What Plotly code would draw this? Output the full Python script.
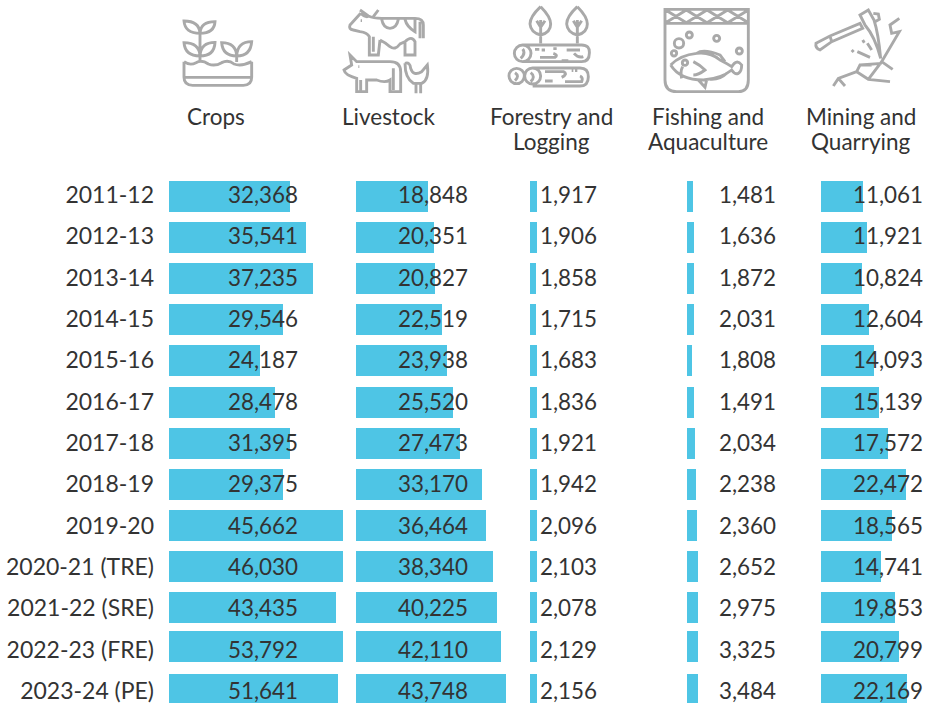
import re
import plotly.graph_objects as go

years = ["2011-12", "2012-13", "2013-14", "2014-15", "2015-16", "2016-17", "2017-18",
         "2018-19", "2019-20", "2020-21 (TRE)", "2021-22 (SRE)", "2022-23 (FRE)", "2023-24 (PE)"]

# printed figures
crops = [32368, 35541, 37235, 29546, 24187, 28478, 31395, 29375, 45662, 46030, 43435, 53792, 51641]
livestock = [18848, 20351, 20827, 22519, 23938, 25520, 27473, 33170, 36464, 38340, 40225, 42110, 43748]
forestry = [1917, 1906, 1858, 1715, 1683, 1836, 1921, 1942, 2096, 2103, 2078, 2129, 2156]
fishing = [1481, 1636, 1872, 2031, 1808, 1491, 2034, 2238, 2360, 2652, 2975, 3325, 3484]
mining = [11061, 11921, 10824, 12604, 14093, 15139, 17572, 22472, 18565, 14741, 19853, 20799, 22169]

# lengths of the bars as drawn in the picture (they do not always agree with the printed figures)
crops_bar = [31700, 35900, 37700, 29900, 23800, 27800, 31700, 29900, 45600, 45600, 43800, 45600, 44300]
livestock_bar = [18900, 20400, 20700, 22500, 23800, 25400, 27200, 33000, 34100, 35900, 36900, 38000, 39300]
forestry_bar = [1830, 1830, 1570, 1570, 1830, 1830, 1830, 1830, 1830, 1830, 1830, 1830, 1830]
fishing_bar = [1570, 1830, 1830, 1830, 1310, 1830, 2100, 2360, 2620, 2880, 2880, 2880, 2880]
mining_bar = [11000, 12050, 10740, 12580, 13890, 15200, 17550, 22270, 18600, 15720, 19390, 20440, 22530]

columns = [
    (["Crops"], crops, crops_bar),
    (["Livestock"], livestock, livestock_bar),
    (["Forestry and", "Logging"], forestry, forestry_bar),
    (["Fishing and", "Aquaculture"], fishing, fishing_bar),
    (["Mining and", "Quarrying"], mining, mining_bar),
]

W, H = 928, 703
BAR = "#4EC5E5"
TEXT = "#333333"
ICON = "#A9A9A9"
FONT = "Lato, sans-serif"
UNITS_PER_PX = 262
col_left = [169, 356, 530, 687, 821]
col_span = [180, 160, 20, 20, 100]
value_right = [300, 470, 599, 777.5, 924.5]
header_center = [216, 388.5, 551, 708, 861]
row_shift_px = [1.5, 1.2, .8, .5, .2, .8, .5, .2, -.2, -.5, -.8, -3.2, -1.5]
ROW0, ROW_STEP = 195, 41.33
bar_frac = 31 / ROW_STEP

fig = go.Figure()
ann = []
for i, (head, vals, bars) in enumerate(columns):
    ax = "x" if i == 0 else f"x{i+1}"
    fig.add_trace(go.Bar(
        x=bars, y=years, orientation="h", xaxis=ax, yaxis="y",
        marker=dict(color=BAR, line=dict(width=0)), width=bar_frac,
        offset=[-bar_frac / 2 + s / ROW_STEP for s in row_shift_px],
        showlegend=False, hoverinfo="skip",
    ))
    key = "xaxis" if i == 0 else f"xaxis{i+1}"
    fig.layout[key] = dict(
        domain=[col_left[i] / W, (col_left[i] + col_span[i]) / W],
        range=[0, col_span[i] * UNITS_PER_PX], visible=False, anchor="y", fixedrange=True)
    for y, v in zip(years, vals):
        ann.append(dict(x=value_right[i] / W, xref="paper", y=y, yref="y", text=f"{v:,}", yshift=0.4,
                        xanchor="right", yanchor="middle", showarrow=False,
                        font=dict(family=FONT, size=22.4, color=TEXT)))
    for j, line in enumerate(head):
        ann.append(dict(x=header_center[i] / W, xref="paper", y=1 - (116 + 25.7 * j) / H, yref="paper",
                        text=line, xanchor="center", yanchor="middle", showarrow=False,
                        font=dict(family=FONT, size=22.5, color=TEXT)))

top_idx, bot_idx = -0.5, (H - ROW0) / ROW_STEP
top_px = ROW0 + top_idx * ROW_STEP


def circle(cx, cy, r):
    k = 0.552 * r
    return (f"M{cx-r},{cy} C{cx-r},{cy-k} {cx-k},{cy-r} {cx},{cy-r} C{cx+k},{cy-r} {cx+r},{cy-k} {cx+r},{cy} "
            f"C{cx+r},{cy+k} {cx+k},{cy+r} {cx},{cy+r} C{cx-k},{cy+r} {cx-r},{cy+k} {cx-r},{cy} ")


def to_paper(path, ox, oy):
    def rep(m):
        x, y = float(m.group(1)), float(m.group(2))
        return f"{(x/3+ox)/W:.5f},{1-(y/3+oy)/H:.5f}"
    return re.sub(r"(-?\d+\.?\d*),(-?\d+\.?\d*)", rep, path)


def leaf(x):
    return (f"M{x},20 Q{x-32},50 {x-32},72 Q{x-30},98 {x},105 Q{x+30},98 {x+30},72 Q{x+30},50 {x},20 "
            f"M{x},60 L{x},130 M{x-12},62 L{x},82 M{x+13},62 L{x},82 ")


crops_icon = (
    "M72,185 L72,232 Q72,256 98,256 L250,256 Q275,256 275,232 L275,185 M72,232 L275,232 "
    "M72,185 Q90,198 108,188 Q125,178 145,192 Q165,200 185,188 Q205,178 222,192 Q245,200 275,185 "
    "M120,100 L120,182 M120,100 Q75,100 72,63 Q118,63 120,100 M120,100 Q163,100 165,65 Q122,65 120,100 "
    "M120,168 Q75,168 72,128 Q118,128 120,168 M120,168 Q163,168 165,127 Q122,127 120,168 "
    "M230,168 L230,186 M230,168 Q188,168 185,128 Q228,128 230,168 M230,168 Q272,168 275,125 Q232,125 230,168 "
)
cow_pig_icon = (
    "M60,30 L85,48 M115,30 L100,50 M85,48 Q100,55 125,55 L225,55 Q250,55 250,75 L250,115 M240,65 L240,115 "
    "M62,40 L30,75 Q25,88 40,90 L60,95 Q82,98 88,110 L88,165 L115,165 L120,120 M100,110 L100,155 "
    "M62,40 Q80,55 85,48 M120,120 Q140,130 150,140 Q165,152 180,132 L195,125 L195,165 L225,165 L225,125 Q215,105 195,125 "
    "M125,58 Q130,85 150,85 Q170,85 175,58 M195,58 Q200,80 225,95 L225,58 M62,62 L66,62 "
    "M30,165 L50,185 L150,185 Q182,185 182,215 L182,275 L150,275 L150,240 Q135,250 110,240 L80,240 L80,275 L50,275 "
    "L50,235 Q15,225 12,210 L35,195 Z M160,205 L160,270 M62,275 L62,240 M55,200 L58,200 "
    "M195,190 Q210,185 212,205 Q220,230 245,215 L262,195 Q268,240 245,250 L220,250 Q195,235 195,190 "
    "M228,250 L228,280 M242,250 L242,280 "
)
forestry_icon = (
    leaf(122) + leaf(232) +
    "M68,135 L245,135 Q270,135 268,160 Q268,185 245,185 L68,185 " + circle(68, 160, 25) +
    "M68,147 Q78,160 62,175 M105,148 L118,148 M125,150 L135,150 M160,146 L170,146 M200,150 L240,150 "
    "M120,172 L165,172 Q175,165 160,160 M185,182 L205,182 M222,160 Q235,175 250,170 " +
    circle(50, 228, 23) + circle(98, 228, 24) +
    "M98,204 L240,204 Q265,204 265,230 Q265,258 240,258 L98,258 "
    "M45,218 Q60,228 45,242 M92,218 Q108,230 92,245 "
    "M135,215 L190,215 Q205,222 185,232 M135,243 L158,243 M215,212 L220,212 M225,212 L232,212 M195,245 L245,245 Q250,232 240,228 "
)
fish_icon = (
    "M15,28 L265,28 L265,240 Q265,275 235,275 L50,275 Q15,275 15,240 Z M15,70 L265,70 "
    "M17,30 L79,68 M79,30 L17,68 M79,30 L141,68 M141,30 L79,68 M141,30 L203,68 M203,30 L141,68 M203,30 L265,68 M265,30 L203,68 " +
    circle(57, 130, 14) + circle(88, 105, 9) + circle(42, 160, 8) + circle(170, 115, 9) + circle(238, 153, 9) + circle(75, 188, 8) +
    "M32,195 Q60,165 110,160 Q150,155 180,180 Q200,190 215,200 Q230,175 245,195 Q245,215 235,220 Q225,225 215,210 "
    "Q185,235 130,240 Q60,240 32,195 M110,160 Q130,145 180,165 L195,185 M115,240 L135,262 L140,240 M150,238 Q180,240 200,220 "
    "M100,185 Q120,195 135,210 Q115,225 100,225 M65,235 Q60,215 68,200 "
)
mining_icon = (
    "M18,130 L60,108 L150,70 L158,85 L65,125 L30,150 Q15,145 18,130 Z M60,108 L65,125 "
    "M150,45 L175,30 L192,60 Q205,100 212,175 Q195,110 165,75 Z M190,40 L205,42 L208,58 L195,65 "
    "M268,55 L240,75 L245,100 L268,95 L215,185 L175,238 M215,185 L248,208 M185,195 L150,195 L140,215 L175,238 L240,245 "
    "M150,195 L215,190 M140,215 L85,235 L70,258 M85,235 L105,258 "
    "M158,120 L163,128 M125,150 L131,156 M142,155 L180,172 M172,130 L185,150 "
)
icons = [(crops_icon, 160, 0), (cow_pig_icon, 340, 0), (forestry_icon, 500, 0), (fish_icon, 660, 0), (mining_icon, 810, 0)]
shapes = [dict(type="path", path=to_paper(p, ox, oy), xref="paper", yref="paper",
               line=dict(color=ICON, width=2.9), fillcolor="rgba(0,0,0,0)") for p, ox, oy in icons]

fig.update_layout(
    width=W, height=H, margin=dict(l=0, r=0, t=0, b=0), paper_bgcolor="white", plot_bgcolor="white",
    showlegend=False, annotations=ann, shapes=shapes, bargap=0,
    yaxis=dict(domain=[0, 1 - top_px / H], range=[bot_idx, top_idx], type="category",
               categoryorder="array", categoryarray=years, tickmode="array", tickvals=years, ticktext=years,
               showgrid=False, zeroline=False, showline=False, ticks="", ticklabelstandoff=14,
               tickfont=dict(family=FONT, size=23, color=TEXT), anchor="x", fixedrange=True),
)
fig.write_html("out.html", config={"displayModeBar": False},
               post_script="document.body.style.margin='0';document.body.style.overflow='hidden';")
